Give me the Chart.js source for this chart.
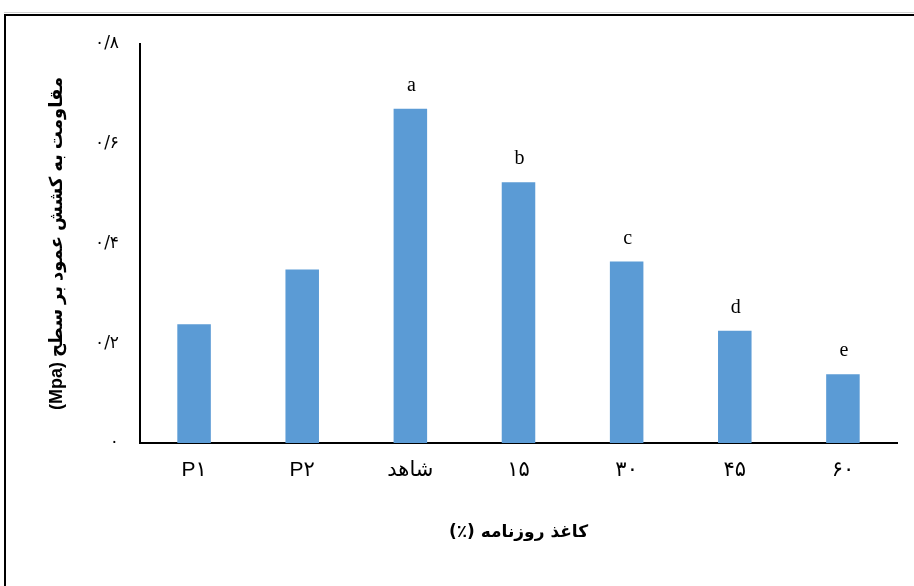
<!DOCTYPE html>
<html>
<head>
<meta charset="utf-8">
<script src="https://cdn.jsdelivr.net/npm/chart.js@4"></script>
<style>
  html, body { margin: 0; padding: 0; background: #fff; }
  #wrap { width: 914px; height: 586px; }
</style>
</head>
<body>
<div id="wrap"><canvas id="myChart" width="914" height="586"></canvas></div>
<script>
const labels = ['P۱', 'P۲', 'شاهد', '۱۵', '۳۰', '۴۵', '۶۰'];
const values = [0.238, 0.348, 0.670, 0.523, 0.364, 0.225, 0.138];
const letters = ['', '', 'a', 'b', 'c', 'd', 'e'];
const yTickLabels = {0: '۰', 0.2: '۰/۲', 0.4: '۰/۴', 0.6: '۰/۶', 0.8: '۰/۸'};

const yTitle = '\u202Bمقاومت به کشش عمود بر سطح (Mpa)\u202C';
const xTitle = '\u202Bکاغذ روزنامه (٪)\u202C';

// frame around the picture + letters over bars
const extras = {
  id: 'extras',
  beforeDraw(chart) {
    const ctx = chart.ctx;
    ctx.save();
    ctx.fillStyle = '#fff';
    ctx.fillRect(0, 0, chart.width, chart.height);
    ctx.strokeStyle = '#d0d0d0';
    ctx.lineWidth = 1;
    ctx.beginPath();
    ctx.moveTo(4, 12.5);
    ctx.lineTo(chart.width, 12.5);
    ctx.stroke();
    ctx.strokeStyle = '#000';
    ctx.lineWidth = 2;
    ctx.beginPath();
    ctx.moveTo(5, chart.height);
    ctx.lineTo(5, 15);
    ctx.lineTo(chart.width, 15);
    ctx.stroke();
    ctx.restore();
  },
  afterDatasetsDraw(chart) {
    const ctx = chart.ctx;
    const meta = chart.getDatasetMeta(0);
    ctx.save();
    ctx.fillStyle = '#000';
    ctx.font = '20px "Liberation Serif"';
    ctx.textAlign = 'center';
    ctx.textBaseline = 'middle';
    meta.data.forEach((bar, i) => {
      if (letters[i]) ctx.fillText(letters[i], bar.x + 1, bar.y - 23);
    });
    ctx.restore();
  }
};

const data = {
  labels: labels,
  datasets: [{
    data: values,
    backgroundColor: '#5B9BD5',
    borderWidth: 0,
    barPercentage: 0.31,
    categoryPercentage: 1
  }]
};

const config = {
  type: 'bar',
  data: data,
  plugins: [extras],
  options: {
    responsive: false,
    animation: false,
    layout: { padding: { left: 0, right: 17, top: 44, bottom: 0 } },
    plugins: { legend: { display: false }, tooltip: { enabled: false } },
    scales: {
      x: {
        grid: { display: false, drawTicks: false },
        border: { display: true, color: '#000', width: 2 },
        ticks: {
          color: '#000',
          padding: 15,
          maxRotation: 0,
          font: { family: '"Liberation Sans", "DejaVu Sans"', size: 21 }
        },
        title: {
          display: true,
          text: xTitle,
          color: '#000',
          padding: { top: 0, bottom: 43 },
          font: { family: '"DejaVu Sans"', size: 17, weight: 'bold' }
        },
        afterFit: s => { s.height = 143; }
      },
      y: {
        min: 0,
        max: 0.8,
        grid: { display: false, drawTicks: false },
        border: { display: true, color: '#000', width: 2 },
        ticks: {
          stepSize: 0.2,
          color: '#000',
          padding: 21,
          font: { family: '"DejaVu Sans"', size: 17 },
          callback: v => yTickLabels[Math.round(v * 10) / 10]
        },
        title: {
          display: true,
          text: yTitle,
          color: '#000',
          padding: { top: 46, bottom: 0 },
          font: { family: '"Liberation Sans", "DejaVu Sans"', size: 18, weight: 'bold' }
        },
        afterFit: s => { s.width = 140; }
      }
    }
  }
};

const myChart = new Chart(document.getElementById('myChart'), config);
</script>
</body>
</html>
